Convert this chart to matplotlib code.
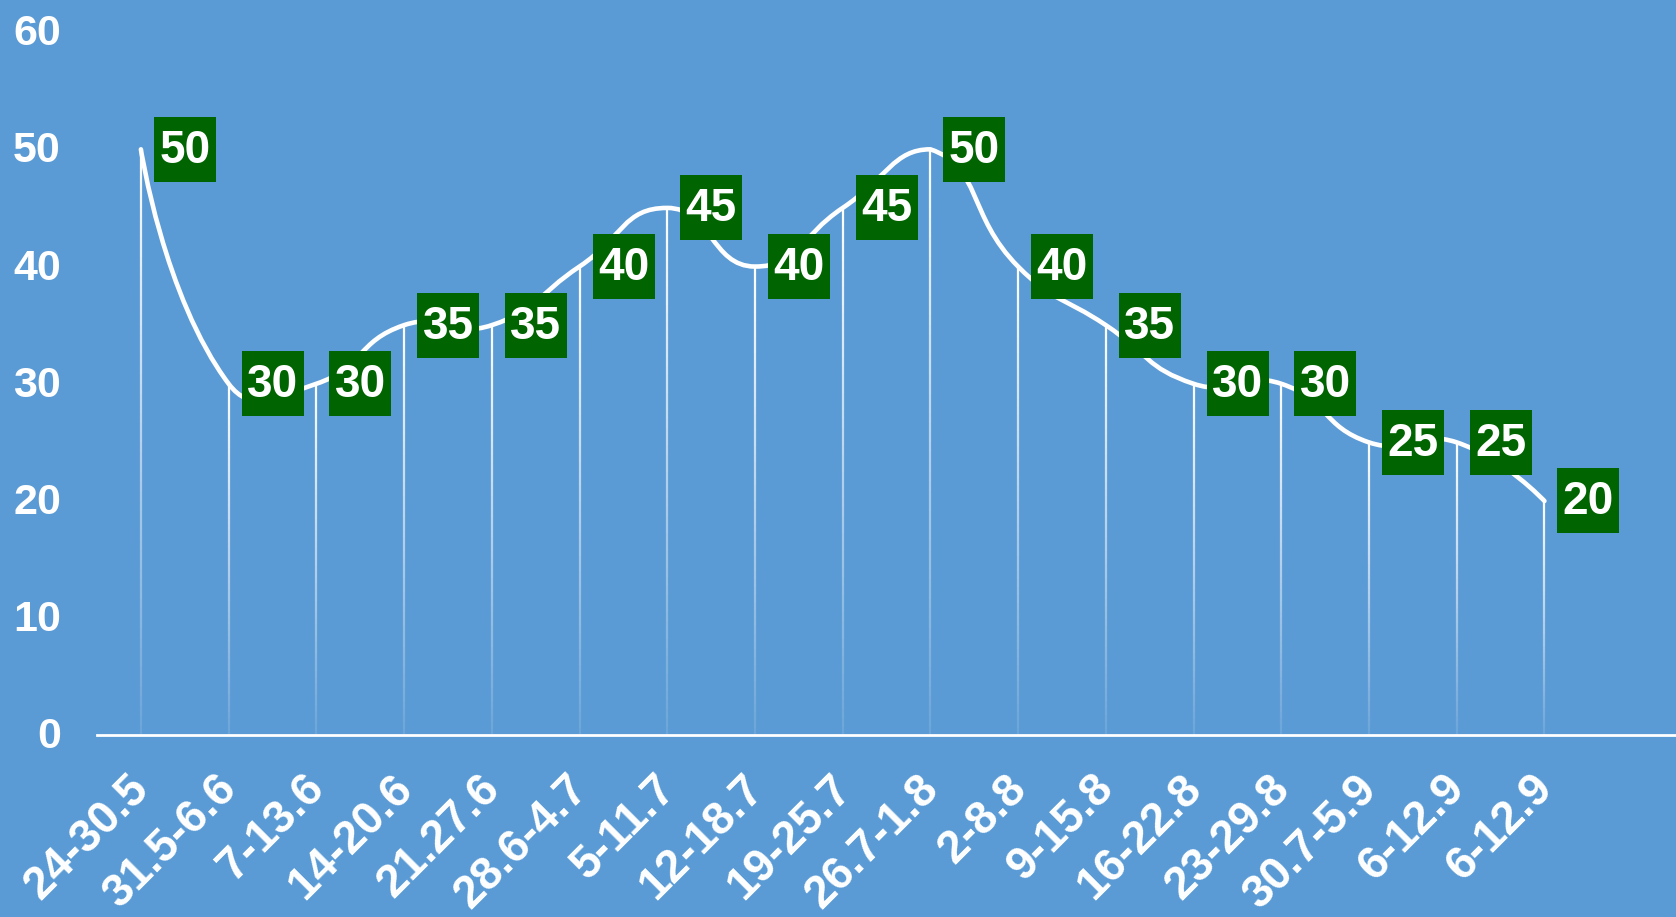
import matplotlib

matplotlib.use("Agg")

import matplotlib.pyplot as plt
import matplotlib.transforms as mtransforms
import numpy as np
from matplotlib.collections import LineCollection
from matplotlib.patches import PathPatch, Rectangle
from matplotlib.path import Path


WEEKS = [
    "24-30.5", "31.5-6.6", "7-13.6", "14-20.6", "21.27.6", "28.6-4.7",
    "5-11.7", "12-18.7", "19-25.7", "26.7-1.8", "2-8.8", "9-15.8",
    "16-22.8", "23-29.8", "30.7-5.9", "6-12.9", "6-12.9",
]
VALUES = [50, 30, 30, 35, 35, 40, 45, 40, 45, 50, 40, 35, 30, 30, 25, 25, 20]
Y_TICKS = [0, 10, 20, 30, 40, 50, 60]

BACKGROUND = "#5b9bd5"
LABEL_BOX = "#006400"
FONT = "Liberation Sans"


def smooth_path(pts, smooth=0.5):
    # bezier smoothing in pixel space, control points kept inside the data bbox
    lo = pts.min(axis=0)
    hi = pts.max(axis=0)
    n = len(pts)
    verts = [tuple(pts[0])]
    codes = [Path.MOVETO]
    cp0 = pts[0].copy()
    for i in range(1, n):
        p = pts[i]
        if i == n - 1:
            cp1 = p.copy()
            v = np.zeros(2)
            ratio = 0.5
        else:
            v = pts[i + 1] - pts[i - 1]
            len_prev = np.linalg.norm(p - pts[i - 1])
            len_next = np.linalg.norm(pts[i + 1] - p)
            ratio = len_next / (len_next + len_prev)
            cp1 = p - v * smooth * (1 - ratio)
        cp0 = np.clip(cp0, lo, hi)
        cp1 = np.clip(cp1, lo, hi)
        verts += [tuple(cp0), tuple(cp1), tuple(p)]
        codes += [Path.CURVE4] * 3
        cp0 = p + v * smooth * ratio
    return np.array(verts), codes


plt.rcParams["font.family"] = [FONT, "DejaVu Sans"]

fig = plt.figure(figsize=(16.76, 9.17), dpi=100, facecolor=BACKGROUND)
ax = fig.add_axes([0.0579, 0.198, 0.9421, 0.767], facecolor=BACKGROUND)
ax.set_xlim(-0.5, 17.5)
ax.set_ylim(0, 60)

x = np.arange(len(VALUES))

# drop lines fading towards the baseline
segments = []
colors = []
steps = 60
for xi, v in zip(x, VALUES):
    ys = np.linspace(0, v, steps + 1)
    for k in range(steps):
        segments.append([(xi, ys[k]), (xi, ys[k + 1])])
        alpha = 0.1 + 0.9 * (k + 0.5) / steps
        colors.append((1, 1, 1, min(alpha, 1)))
ax.add_collection(LineCollection(segments, colors=colors, linewidths=1.6, zorder=2))

# smoothed curve
pix = ax.transData.transform(np.column_stack([x, VALUES]))
verts, codes = smooth_path(pix)
verts = ax.transData.inverted().transform(verts)
ax.add_patch(PathPatch(Path(verts, codes), fill=False, edgecolor="white",
                       linewidth=3.3, capstyle="round", joinstyle="round", zorder=3))

# value labels in green boxes, sized in inches next to each point
for xi, v in zip(x, VALUES):
    trans = fig.dpi_scale_trans + mtransforms.ScaledTranslation(xi, v, ax.transData)
    ax.add_patch(Rectangle((0.13, -0.325), 0.62, 0.65, transform=trans,
                           facecolor=LABEL_BOX, edgecolor="none", zorder=4))
    ax.text(0.44, -0.135, str(v), transform=trans, ha="center", va="baseline",
            fontsize=33, fontweight="bold", color="white", zorder=5)

# category labels, rotated, hanging from just below the baseline
ax.set_xticks(x)
ax.set_xticklabels([])
for xi, week in zip(x, WEEKS):
    trans = fig.dpi_scale_trans + mtransforms.ScaledTranslation(xi, 0, ax.get_xaxis_transform())
    ax.text(-0.14, -0.31, week, transform=trans, rotation=45, rotation_mode="anchor",
            ha="right", va="top", fontsize=33, fontweight="bold", color="white",
            clip_on=False)

ax.set_yticks(Y_TICKS)
ax.set_yticklabels([str(t) for t in Y_TICKS], fontsize=31, fontweight="bold", color="white")
ax.tick_params(axis="x", length=0)
ax.tick_params(axis="y", length=0, pad=26)
lift = mtransforms.ScaledTranslation(0, 0.025, fig.dpi_scale_trans)
for label in ax.get_yticklabels():
    label.set_transform(label.get_transform() + lift)

for side in ["top", "right", "left"]:
    ax.spines[side].set_visible(False)
ax.spines["bottom"].set_color("white")
ax.spines["bottom"].set_linewidth(2)
ax.spines["bottom"].set_zorder(6)

fig.savefig("out.png", dpi=100, facecolor=BACKGROUND)
